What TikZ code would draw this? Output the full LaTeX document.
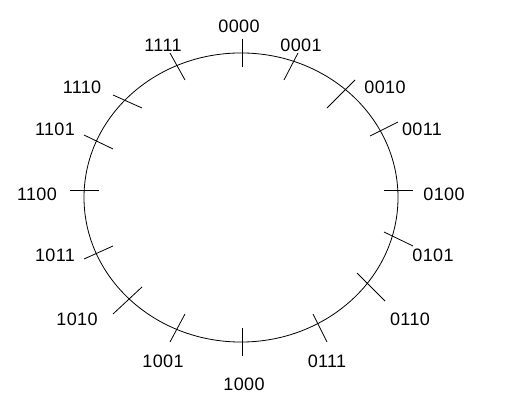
\documentclass[tikz,border=0pt]{standalone}
\usepackage{fontspec}
\setmainfont{Liberation Sans}
\usetikzlibrary{calc}

\begin{document}
\begin{tikzpicture}[x=0.75pt,y=-0.75pt,line width=0.6pt,
  bitlabel/.style={inner sep=0pt,font=\fontsize{13.5}{15}\selectfont\addfontfeature{LetterSpace=2}}]
\useasboundingbox (0,0) rectangle (514,416);
\coordinate (c) at (241,197.5);
\draw (c) ellipse [x radius=117.75pt, y radius=108.4pt];
% ticks and codes, clockwise from the top
\foreach \lbl/\lx/\ly/\ax/\ay/\bx/\by in {
  0000/239/26/242/39/242/67,
  0001/301/45/298/53/284/80,
  0010/385/87/355/80/327/108,
  0011/422/129/398/122/370/136,
  0100/444/194/384/190/413/190,
  0101/433/255/384/232/413/246,
  0110/410/319/357/273/385/301,
  0111/327/361/313/314/327/342,
  1000/244/384/242/328/242/356,
  1001/163/361/185/314/170/342,
  1010/77/319/142/287/113/314,
  1011/55/255/113/246/84/259,
  1100/37/194/70/190/99/190,
  1101/55/129/84/135/113/149,
  1110/82/87/113/95/142/108,
  1111/163/45/170/53/185/80}
{
  \node[bitlabel] (l\lbl) at (\lx,\ly) {\lbl};
  \coordinate (s\lbl) at (\ax,\ay);
  \coordinate (e\lbl) at (\bx,\by);
  \draw (s\lbl) -- (e\lbl);
}
\end{tikzpicture}
\end{document}
